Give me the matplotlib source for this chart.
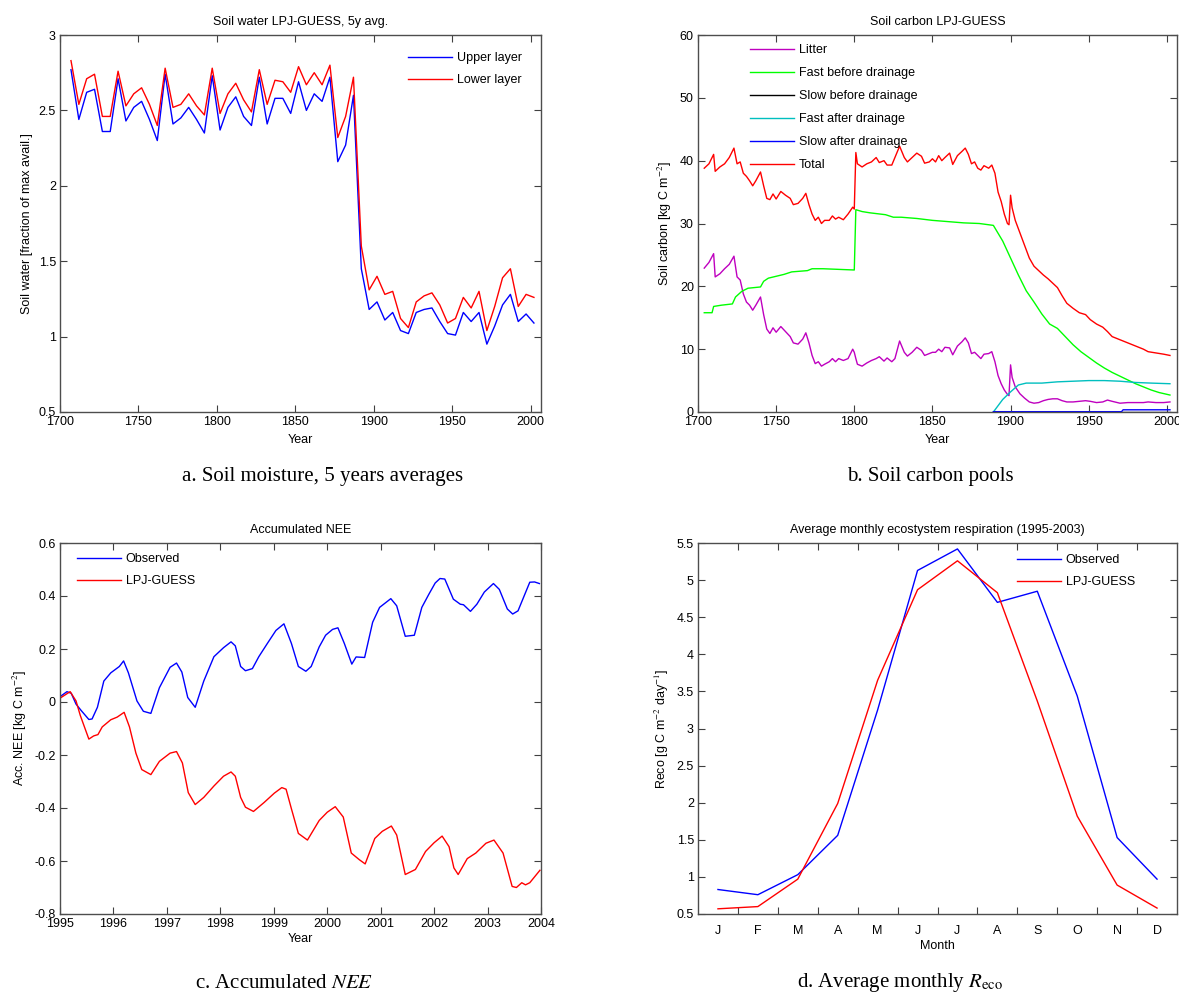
import matplotlib
matplotlib.use("Agg")
import matplotlib.pyplot as plt
from matplotlib.ticker import FormatStrFormatter, FixedLocator, NullFormatter

plt.rcParams["font.family"] = ["Liberation Sans", "DejaVu Sans"]
plt.rcParams["axes.unicode_minus"] = False
plt.rcParams["mathtext.fontset"] = "stix"

# --- a: soil water, 5-year averages ---
sw_years = [1707, 1712, 1717, 1722, 1727, 1732, 1737, 1742, 1747, 1752,
            1757, 1762, 1767, 1772, 1777, 1782, 1787, 1792, 1797, 1802,
            1807, 1812, 1817, 1822, 1827, 1832, 1837, 1842, 1847, 1852,
            1857, 1862, 1867, 1872, 1877, 1882, 1887, 1892, 1897, 1902,
            1907, 1912, 1917, 1922, 1927, 1932, 1937, 1942, 1947, 1952,
            1957, 1962, 1967, 1972, 1977, 1982, 1987, 1992, 1997, 2002]
sw_upper = [2.77, 2.44, 2.62, 2.64, 2.36, 2.36, 2.71, 2.43, 2.52, 2.56,
            2.44, 2.30, 2.74, 2.41, 2.45, 2.52, 2.44, 2.35, 2.73, 2.37,
            2.52, 2.59, 2.46, 2.40, 2.72, 2.41, 2.58, 2.58, 2.48, 2.69,
            2.50, 2.61, 2.56, 2.72, 2.16, 2.27, 2.60, 1.45, 1.18, 1.23,
            1.11, 1.16, 1.04, 1.02, 1.16, 1.18, 1.19, 1.10, 1.02, 1.01,
            1.16, 1.10, 1.16, 0.95, 1.07, 1.21, 1.28, 1.10, 1.15, 1.09]
sw_lower = [2.83, 2.54, 2.71, 2.74, 2.46, 2.46, 2.76, 2.53, 2.61, 2.65,
            2.54, 2.40, 2.78, 2.52, 2.54, 2.61, 2.53, 2.47, 2.78, 2.48,
            2.61, 2.68, 2.57, 2.49, 2.77, 2.54, 2.70, 2.69, 2.62, 2.79,
            2.67, 2.75, 2.67, 2.80, 2.32, 2.46, 2.72, 1.60, 1.31, 1.40,
            1.28, 1.30, 1.12, 1.06, 1.23, 1.27, 1.29, 1.21, 1.09, 1.12,
            1.26, 1.19, 1.30, 1.04, 1.20, 1.39, 1.45, 1.20, 1.28, 1.26]

# --- b: soil carbon pools ---
total_years = [1704, 1707, 1710, 1711, 1714, 1717, 1720, 1723, 1725, 1727,
               1729, 1731, 1733, 1735, 1737, 1740, 1742, 1744, 1746, 1748,
               1750, 1753, 1756, 1759, 1761, 1764, 1767, 1769, 1771, 1773,
               1775, 1777, 1779, 1781, 1784, 1786, 1788, 1790, 1793, 1796,
               1799, 1800, 1801, 1802, 1805, 1808, 1811, 1814, 1816, 1819,
               1821, 1824, 1826, 1829, 1832, 1834, 1837, 1840, 1843, 1845,
               1848, 1850, 1852, 1854, 1856, 1858, 1861, 1863, 1866, 1869,
               1871, 1873, 1875, 1877, 1879, 1881, 1883, 1886, 1888, 1890,
               1892, 1894, 1896, 1898, 1899, 1900, 1901, 1903, 1906, 1909,
               1912, 1915, 1918, 1921, 1924, 1927, 1930, 1933, 1936, 1940,
               1944, 1948, 1951, 1955, 1959, 1962, 1965, 1970, 1975, 1980,
               1985, 1988, 1993, 1998, 2002]
total_c = [38.8, 39.5, 41.0, 38.3, 39.0, 39.5, 40.5, 42.0, 39.5, 39.8,
           38.0, 37.5, 36.8, 36.0, 36.8, 38.2, 36.0, 34.0, 33.8, 34.7,
           33.9, 35.1, 34.5, 34.0, 33.0, 33.2, 34.0, 34.8, 33.0, 31.5,
           30.5, 31.0, 30.0, 30.5, 30.5, 31.2, 30.7, 31.0, 30.6, 31.5,
           32.6, 32.3, 41.3, 39.5, 39.0, 39.5, 39.8, 40.5, 39.7, 40.0,
           39.3, 39.3, 40.5, 42.3, 40.5, 39.8, 40.5, 41.2, 40.7, 39.6,
           39.8, 40.3, 39.8, 40.8, 40.0, 40.5, 41.2, 39.4, 40.8, 41.5,
           42.0, 41.0, 39.5, 39.8, 38.8, 38.5, 39.2, 38.8, 39.3, 38.0,
           35.0, 33.5, 31.5, 30.0, 29.8, 34.5, 32.5, 30.5, 28.5, 26.5,
           24.5, 23.2, 22.5, 21.8, 21.2, 20.5, 19.8, 18.5, 17.3, 16.5,
           15.8, 15.5, 14.7, 14.0, 13.5, 12.8, 12.0, 11.5, 11.0, 10.5,
           10.0, 9.6, 9.4, 9.2, 9.0]
litter_c = [22.9, 23.8, 25.2, 21.5, 22.0, 22.8, 23.5, 24.8, 21.5, 21.0,
            18.8, 17.5, 17.0, 16.2, 17.0, 18.3, 15.5, 13.2, 12.5, 13.4,
            12.7, 13.6, 12.8, 12.0, 11.0, 10.8, 11.6, 12.6, 11.0, 9.0,
            7.7, 8.0, 7.3, 7.6, 8.0, 8.5, 8.0, 8.5, 8.2, 8.5,
            10.0, 9.5, 8.5, 7.6, 7.3, 7.8, 8.2, 8.5, 8.8, 8.1,
            8.6, 8.0, 8.5, 11.3, 9.5, 8.9, 9.5, 10.3, 9.8, 9.0,
            9.3, 9.5, 9.5, 10.0, 9.6, 10.3, 10.2, 9.1, 10.5, 11.2,
            11.8, 11.0, 9.3, 9.5, 9.0, 8.5, 9.2, 9.3, 9.6, 8.0,
            5.8, 4.5, 3.5, 2.8, 2.6, 7.5, 5.5, 4.0, 2.9, 2.2,
            1.6, 1.4, 1.5, 1.8, 2.0, 2.1, 2.1, 1.8, 1.6, 1.6,
            1.7, 1.8, 1.7, 1.5, 1.6, 1.9, 1.7, 1.4, 1.5, 1.5,
            1.5, 1.6, 1.5, 1.5, 1.6]
fast_pre_years = [1704, 1709, 1710, 1715, 1722, 1724, 1728, 1732, 1736, 1740,
                  1742, 1745, 1750, 1755, 1760, 1765, 1770, 1773, 1780, 1790,
                  1800, 1801, 1805, 1810, 1820, 1825, 1830, 1840, 1850, 1860,
                  1870, 1880, 1889, 1895, 1900, 1905, 1910, 1915, 1920, 1925,
                  1930, 1935, 1940, 1945, 1950, 1955, 1960, 1965, 1970, 1975,
                  1980, 1985, 1990, 1995, 2002]
fast_pre_c = [15.8, 15.8, 16.8, 17.0, 17.2, 18.3, 19.2, 19.7, 19.8, 19.9,
              20.8, 21.3, 21.6, 21.9, 22.3, 22.4, 22.5, 22.8, 22.8, 22.7,
              22.6, 32.2, 31.9, 31.7, 31.4, 31.0, 31.0, 30.8, 30.5, 30.3,
              30.1, 30.0, 29.7, 27.2, 24.5, 21.8, 19.3, 17.5, 15.6, 14.0,
              13.3, 12.0, 10.7, 9.6, 8.7, 7.8, 7.0, 6.3, 5.7, 5.1,
              4.5, 4.0, 3.5, 3.1, 2.7]
post_years = [1889, 1895, 1900, 1905, 1910, 1920, 1930, 1940, 1950, 1960,
              1970, 1980, 1990, 2002]
fast_post_c = [0.0, 2.0, 3.2, 4.3, 4.6, 4.6, 4.8, 4.9, 5.0, 5.0,
               4.9, 4.7, 4.6, 4.5]
slow_pre_years = [1889, 2002]
slow_pre_c = [0.05, 0.05]
slow_post_years = [1889, 1971, 1972, 2002]
slow_post_c = [0.05, 0.05, 0.35, 0.35]

# --- c: accumulated NEE ---
obs_t = [1995.02, 1995.13, 1995.21, 1995.30, 1995.40, 1995.54, 1995.60, 1995.70,
         1995.82, 1995.95, 1996.11, 1996.19, 1996.28, 1996.44, 1996.56, 1996.70,
         1996.86, 1997.06, 1997.18, 1997.28, 1997.39, 1997.53, 1997.69, 1997.88,
         1998.06, 1998.20, 1998.28, 1998.38, 1998.47, 1998.60, 1998.72, 1998.88,
         1999.04, 1999.19, 1999.33, 1999.46, 1999.60, 1999.70, 1999.85, 1999.97,
         2000.10, 2000.20, 2000.32, 2000.46, 2000.54, 2000.70, 2000.85, 2000.98,
         2001.19, 2001.30, 2001.46, 2001.63, 2001.77, 2001.90, 2002.02, 2002.11,
         2002.20, 2002.36, 2002.49, 2002.55, 2002.68, 2002.80, 2002.94, 2003.11,
         2003.22, 2003.37, 2003.47, 2003.57, 2003.79, 2003.88, 2003.97]
obs_nee = [0.023, 0.039, 0.033, -0.008, -0.033, -0.066, -0.064, -0.020,
           0.079, 0.110, 0.134, 0.155, 0.110, 0.004, -0.035, -0.043,
           0.054, 0.131, 0.147, 0.113, 0.017, -0.020, 0.079, 0.171,
           0.205, 0.227, 0.212, 0.134, 0.118, 0.126, 0.171, 0.221,
           0.270, 0.295, 0.221, 0.134, 0.116, 0.134, 0.208, 0.252,
           0.274, 0.280, 0.221, 0.143, 0.170, 0.168, 0.301, 0.357,
           0.390, 0.363, 0.248, 0.252, 0.357, 0.406, 0.449, 0.466,
           0.464, 0.388, 0.369, 0.367, 0.342, 0.369, 0.415, 0.447,
           0.425, 0.351, 0.332, 0.344, 0.452, 0.453, 0.447]
mod_t = [1995.02, 1995.19, 1995.30, 1995.38, 1995.54, 1995.63, 1995.71, 1995.79,
         1995.95, 1996.07, 1996.20, 1996.30, 1996.42, 1996.53, 1996.70, 1996.86,
         1997.06, 1997.18, 1997.29, 1997.40, 1997.53, 1997.69, 1997.88, 1998.06,
         1998.20, 1998.28, 1998.38, 1998.47, 1998.62, 1998.82, 1999.01, 1999.15,
         1999.23, 1999.33, 1999.46, 1999.63, 1999.85, 2000.00, 2000.15, 2000.30,
         2000.45, 2000.60, 2000.71, 2000.89, 2001.03, 2001.20, 2001.30, 2001.46,
         2001.65, 2001.84, 2002.00, 2002.15, 2002.28, 2002.37, 2002.45, 2002.62,
         2002.78, 2002.97, 2003.12, 2003.29, 2003.46, 2003.54, 2003.64, 2003.71,
         2003.79, 2003.98]
mod_nee = [0.017, 0.039, 0.004, -0.051, -0.140, -0.128, -0.123, -0.094,
           -0.067, -0.057, -0.039, -0.094, -0.193, -0.255, -0.274, -0.224,
           -0.193, -0.187, -0.230, -0.342, -0.387, -0.360, -0.317, -0.280,
           -0.264, -0.280, -0.360, -0.397, -0.413, -0.379, -0.344, -0.323,
           -0.329, -0.403, -0.496, -0.521, -0.447, -0.416, -0.395, -0.434,
           -0.570, -0.595, -0.611, -0.515, -0.488, -0.468, -0.502, -0.651,
           -0.632, -0.564, -0.531, -0.506, -0.546, -0.626, -0.651, -0.591,
           -0.570, -0.533, -0.521, -0.570, -0.696, -0.700, -0.682, -0.690,
           -0.682, -0.635]

# --- d: monthly ecosystem respiration ---
months = ["J", "F", "M", "A", "M", "J", "J", "A", "S", "O", "N", "D"]
reco_obs = [0.83, 0.76, 1.03, 1.56, 3.25, 5.13, 5.42, 4.70, 4.85, 3.44, 1.53, 0.97]
reco_mod = [0.57, 0.60, 0.97, 1.99, 3.65, 4.87, 5.26, 4.83, 3.37, 1.82, 0.89, 0.58]

W, H = 1179, 999
fig = plt.figure(figsize=(W / 100, H / 100), dpi=100)
FS = 9


def make_axes(x0, y0, x1, y1):
    ax = fig.add_axes([x0 / W, 1 - y1 / H, (x1 - x0) / W, (y1 - y0) / H])
    ax.tick_params(direction="in", top=True, right=True, length=5,
                   labelsize=FS, color="0.25", pad=3)
    for s in ax.spines.values():
        s.set_color("0.3")
        s.set_linewidth(1.0)
    return ax


def add_legend(ax, x, y, spacing=0.8):
    ax.legend(loc="upper left", bbox_to_anchor=(x, y), frameon=False,
              fontsize=FS, handlelength=3.5, handletextpad=0.4,
              labelspacing=spacing, borderpad=0, borderaxespad=0)


# a
ax = make_axes(60, 35, 541, 412)
ax.plot(sw_years, sw_upper, color="b", lw=1, label="Upper layer")
ax.plot(sw_years, sw_lower, color="r", lw=1, label="Lower layer")
ax.set_xlim(1700, 2006.5)
ax.set_ylim(0.5, 3)
ax.set_yticks([0.5, 1, 1.5, 2, 2.5, 3])
ax.yaxis.set_major_formatter(FormatStrFormatter("%g"))
ax.set_title("Soil water LPJ-GUESS, 5y avg.", fontsize=FS, pad=7)
ax.set_xlabel("Year", fontsize=FS)
ax.set_ylabel("Soil water [fraction of max avail.]", fontsize=FS)
add_legend(ax, 0.723, 0.955)

# b
ax = make_axes(698, 35, 1177, 412)
ax.plot(total_years, litter_c, color="m", lw=1, label="Litter")
ax.plot(fast_pre_years, fast_pre_c, color="#00ff00", lw=1, label="Fast before drainage")
ax.plot(slow_pre_years, slow_pre_c, color="k", lw=1, label="Slow before drainage")
ax.plot(post_years, fast_post_c, color="c", lw=1, label="Fast after drainage")
ax.plot(slow_post_years, slow_post_c, color="b", lw=1, label="Slow after drainage")
ax.plot(total_years, total_c, color="r", lw=1, label="Total")
ax.set_xlim(1700, 2006.5)
ax.set_ylim(0, 60)
ax.set_title("Soil carbon LPJ-GUESS", fontsize=FS, pad=7)
ax.set_xlabel("Year", fontsize=FS)
ax.set_ylabel("Soil carbon [kg C m$^{-2}$]", fontsize=FS)
add_legend(ax, 0.109, 0.975, spacing=0.88)

# c
ax = make_axes(60, 543, 541, 914)
ax.plot(obs_t, obs_nee, color="b", lw=1, label="Observed")
ax.plot(mod_t, mod_nee, color="r", lw=1, label="LPJ-GUESS")
ax.set_xlim(1995, 2004)
ax.set_ylim(-0.8, 0.6)
ax.set_xticks(range(1995, 2005))
ax.set_yticks([-0.8, -0.6, -0.4, -0.2, 0, 0.2, 0.4, 0.6])
ax.yaxis.set_major_formatter(FormatStrFormatter("%g"))
ax.set_title("Accumulated NEE", fontsize=FS, pad=7)
ax.set_xlabel("Year", fontsize=FS, labelpad=2)
ax.set_ylabel("Acc. NEE [kg C m$^{-2}$]", fontsize=FS)
add_legend(ax, 0.035, 0.972)

# d
ax = make_axes(698, 543, 1177, 914)
m = list(range(1, 13))
ax.plot(m, reco_obs, color="b", lw=1, label="Observed")
ax.plot(m, reco_mod, color="r", lw=1, label="LPJ-GUESS")
ax.set_xlim(0.5, 12.5)
ax.set_ylim(0.5, 5.5)
ax.xaxis.set_major_locator(FixedLocator([i + 0.5 for i in range(1, 12)]))
ax.xaxis.set_major_formatter(NullFormatter())
ax.xaxis.set_minor_locator(FixedLocator(m))
ax.set_xticklabels(months, minor=True)
ax.tick_params(axis="x", which="minor", length=0, labelsize=FS, pad=8)
ax.set_yticks([0.5, 1, 1.5, 2, 2.5, 3, 3.5, 4, 4.5, 5, 5.5])
ax.yaxis.set_major_formatter(FormatStrFormatter("%g"))
ax.set_title("Average monthly ecostystem respiration (1995-2003)", fontsize=FS, pad=7)
ax.set_xlabel("Month", fontsize=FS, labelpad=2)
ax.set_ylabel("Reco [g C m$^{-2}$ day$^{-1}$]", fontsize=FS)
add_legend(ax, 0.666, 0.97)

# captions under each panel
cap = dict(fontsize=15, ha="center", va="center", family="Liberation Serif")
fig.text(323 / W, 1 - 477 / H, "a. Soil moisture, 5 years averages", **cap)
fig.text(930 / W, 1 - 477 / H, "b. Soil carbon pools", **cap)
fig.text(284 / W, 1 - 983 / H, "c. Accumulated $NEE$", **cap)
fig.text(900 / W, 1 - 983 / H, "d. Average monthly $R_{\\mathrm{eco}}$", **cap)

fig.savefig("out.png", dpi=100)
